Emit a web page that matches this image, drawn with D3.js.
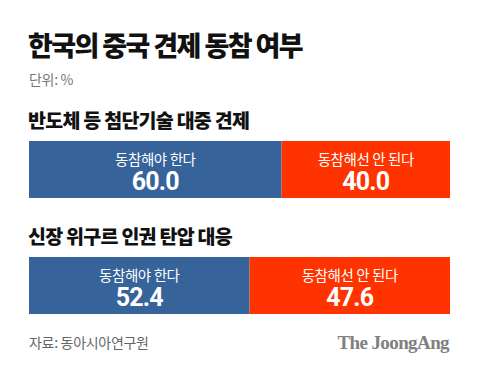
<!DOCTYPE html>
<html><head><meta charset="utf-8">
<script src="https://cdn.jsdelivr.net/npm/d3@7"></script>
<style>body{margin:0;background:#fff}</style>
</head><body>
<script>
const title = "한국의 중국 견제 동참 여부";
const unit = "단위: %";
const questions = ["반도체 등 첨단기술 대중 견제", "신장 위구르 인권 탄압 대응"];
const answers = ["동참해야 한다", "동참해선 안 된다"];
const yesValues = [60.0, 52.4];
const noValues = [40.0, 47.6];
const colors = ["#35639a", "#ff3300"];
const source = "자료: 동아시아연구원";
const brand = "The JoongAng";

const W = 480, H = 369;
const svg = d3.select("body").append("svg").attr("width", W).attr("height", H)
  .style("font-family", "'Noto Sans CJK KR', 'Noto Sans', sans-serif");
svg.append("rect").attr("width", W).attr("height", H).attr("fill", "#fff");

svg.append("text").attr("x", 28).attr("y", 56).text(title)
  .attr("font-size", 27).attr("font-weight", 900).attr("fill", "#111").attr("letter-spacing", -1.6);
svg.append("text").attr("x", 29).attr("y", 85).text(unit)
  .attr("font-size", 14).attr("fill", "#777").attr("letter-spacing", -0.3);

const x = d3.scaleLinear().domain([0, 100]).range([29, 450]);
const rows = [141, 257];
const labelY = [128, 244];
const barH = 57;

questions.forEach((q, i) => {
  svg.append("text").attr("x", 28).attr("y", labelY[i]).text(q)
    .attr("font-size", 19.5).attr("font-weight", 900).attr("fill", "#111").attr("letter-spacing", -0.75);
  const segs = [
    {v: yesValues[i], x0: 0, x1: yesValues[i], label: answers[0], c: colors[0]},
    {v: noValues[i], x0: yesValues[i], x1: yesValues[i] + noValues[i], label: answers[1], c: colors[1]}
  ];
  const g = svg.append("g");
  g.selectAll("rect").data(segs).join("rect")
    .attr("x", d => x(d.x0)).attr("width", d => x(d.x1) - x(d.x0))
    .attr("y", rows[i]).attr("height", barH).attr("fill", d => d.c);
  g.selectAll("text.lab").data(segs).join("text").attr("class", "lab")
    .attr("x", d => (x(d.x0) + x(d.x1)) / 2).attr("y", rows[i] + 24)
    .attr("text-anchor", "middle").attr("font-size", 14.5).attr("fill", "#fff")
    .attr("letter-spacing", -0.4).text(d => d.label);
  g.selectAll("text.val").data(segs).join("text").attr("class", "val")
    .attr("x", d => (x(d.x0) + x(d.x1)) / 2).attr("y", rows[i] + 49)
    .attr("text-anchor", "middle").attr("font-size", 25).attr("font-weight", 700).attr("fill", "#fff")
    .attr("letter-spacing", -0.8)
    .style("font-family", "Roboto, 'Noto Sans', sans-serif")
    .text(d => d3.format(".1f")(d.v));
});

svg.append("text").attr("x", 29).attr("y", 348).text(source)
  .attr("font-size", 14).attr("fill", "#666").attr("letter-spacing", -0.3);
svg.append("text").attr("x", 449).attr("y", 349).attr("text-anchor", "end").text(brand)
  .attr("font-size", 19).attr("font-weight", 700).attr("fill", "#808080")
  .style("font-family", "'Liberation Serif', 'DejaVu Serif', serif").attr("letter-spacing", -0.6);
</script>
</body></html>
